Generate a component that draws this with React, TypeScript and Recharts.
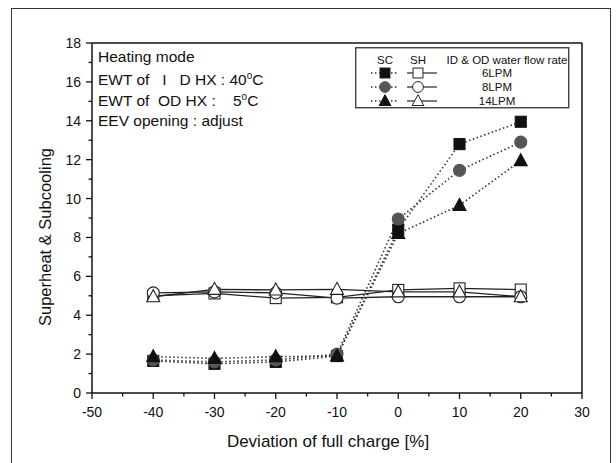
import React from 'react';
import { LineChart, Line, XAxis, YAxis, ReferenceLine, Customized, Legend } from 'recharts';

const deviation = [-40, -30, -20, -10, 0, 10, 20];
const sc6 = [1.65, 1.5, 1.6, 1.9, 8.4, 12.8, 13.95];
const sc8 = [1.7, 1.6, 1.7, 2.0, 8.95, 11.45, 12.9];
const sc14 = [1.87, 1.78, 1.87, 1.9, 8.2, 9.65, 11.95];
const sh6 = [5.0, 5.12, 4.88, 4.92, 5.3, 5.38, 5.32];
const sh8 = [5.15, 5.2, 5.15, 4.88, 4.95, 4.95, 4.95];
const sh14 = [4.95, 5.33, 5.3, 5.33, 5.2, 5.2, 4.95];
const xTicks = [-50, -45, -40, -35, -30, -25, -20, -15, -10, -5, 0, 5, 10, 15, 20, 25, 30];
const yTicks = [0, 1, 2, 3, 4, 5, 6, 7, 8, 9, 10, 11, 12, 13, 14, 15, 16, 17, 18];
const flowLabels = ['6LPM', '8LPM', '14LPM'];

const data = deviation.map((d, i) => ({
  d,
  sc6: sc6[i], sc8: sc8[i], sc14: sc14[i],
  sh6: sh6[i], sh8: sh8[i], sh14: sh14[i],
}));

const FONT = '"Liberation Sans", Arial, sans-serif';
const INK = '#111';
const NB = '\u00A0';

type Shape = 'square' | 'circle' | 'triangle';

const Marker = ({ cx, cy, shape, fill, stroke }: { cx: number; cy: number; shape: Shape; fill: string; stroke: string }) => {
  if (shape === 'square') {
    return <rect x={cx - 5.5} y={cy - 5.5} width={11} height={11} fill={fill} stroke={stroke} strokeWidth={1.1} />;
  }
  if (shape === 'circle') {
    return <circle cx={cx} cy={cy} r={6} fill={fill} stroke={stroke} strokeWidth={1.1} />;
  }
  return (
    <polygon
      points={`${cx},${cy - 7} ${cx + 6.5},${cy + 5} ${cx - 6.5},${cy + 5}`}
      fill={fill}
      stroke={stroke}
      strokeWidth={1.1}
    />
  );
};

const makeDot = (shape: Shape, fill: string, stroke: string) => (props: any) => {
  const { cx, cy, index } = props;
  if (cx == null || cy == null) return <g key={`e${index}`} />;
  return (
    <g key={`${shape}-${fill}-${index}`}>
      <Marker cx={cx} cy={cy} shape={shape} fill={fill} stroke={stroke} />
    </g>
  );
};

const XTick = (props: any) => {
  const { x, y, payload } = props;
  const major = payload.value % 10 === 0;
  return (
    <g>
      <line x1={x} y1={y} x2={x} y2={y + (major ? 6 : 3.5)} stroke={INK} strokeWidth={1.3} />
      {major && (
        <text x={x} y={y + 24} textAnchor="middle" fontSize={14} fontFamily={FONT} fill={INK}>
          {payload.value}
        </text>
      )}
    </g>
  );
};

const YTick = (props: any) => {
  const { x, y, payload } = props;
  const major = payload.value % 2 === 0;
  return (
    <g>
      <line x1={x} y1={y} x2={x - (major ? 6 : 3.5)} y2={y} stroke={INK} strokeWidth={1.3} />
      {major && (
        <text x={x - 11} y={y + 5} textAnchor="end" fontSize={14} fontFamily={FONT} fill={INK}>
          {payload.value}
        </text>
      )}
    </g>
  );
};

const Annotations = () => (
  <g fontFamily={FONT} fill={INK} fontSize={15.5}>
    <text x={98} y={62}>Heating mode</text>
    <text x={98} y={85}>
      {`EWT of${NB} ${NB}I${NB} ${NB}D HX : 40`}
      <tspan dy={-6} fontSize={10}>o</tspan>
      <tspan dy={6}>C</tspan>
    </text>
    <text x={98} y={106}>
      {`EWT of${NB} OD HX :${NB} ${NB} 5`}
      <tspan dy={-6} fontSize={10}>o</tspan>
      <tspan dy={6}>C</tspan>
    </text>
    <text x={98} y={126}>EEV opening : adjust</text>
    <text x={328} y={447} textAnchor="middle" fontSize={17}>Deviation of full charge [%]</text>
    <text x={45} y={237} textAnchor="middle" fontSize={16.5} transform="rotate(-90 45 237)" dy={6}>
      Superheat &amp; Subcooling
    </text>
  </g>
);

const legendRows: { shape: Shape; scFill: string }[] = [
  { shape: 'square', scFill: '#111' },
  { shape: 'circle', scFill: '#555' },
  { shape: 'triangle', scFill: '#111' },
];

const LegendBox = () => {
  const rowsY = [26, 40, 54];
  return (
    <svg width={215} height={62} style={{ display: 'block' }}>
      <rect x={0.75} y={0.75} width={213} height={60} fill="#fff" stroke="#333" strokeWidth={1.3} />
      <g fontFamily={FONT} fontSize={11.5} fill={INK}>
        <text x={30} y={17} textAnchor="middle">SC</text>
        <text x={63} y={17} textAnchor="middle">SH</text>
        <text x={152} y={17} textAnchor="middle">ID &amp; OD water flow rate</text>
        {legendRows.map((r, i) => (
          <g key={i}>
            <line x1={16} y1={rowsY[i]} x2={44} y2={rowsY[i]} stroke="#333" strokeWidth={1.5} strokeDasharray="1.5 2.5" />
            <g transform={`translate(30 ${rowsY[i]}) scale(0.9) translate(-30 ${-rowsY[i]})`}>
              <Marker cx={30} cy={rowsY[i]} shape={r.shape} fill={r.scFill} stroke={r.scFill} />
            </g>
            <line x1={52} y1={rowsY[i]} x2={82} y2={rowsY[i]} stroke="#222" strokeWidth={1.2} />
            <g transform={`translate(63 ${rowsY[i]}) scale(0.9) translate(-63 ${-rowsY[i]})`}>
              <Marker cx={63} cy={rowsY[i]} shape={r.shape} fill="#fff" stroke="#222" />
            </g>
            <text x={142} y={rowsY[i] + 4} textAnchor="middle">{flowLabels[i]}</text>
          </g>
        ))}
      </g>
    </svg>
  );
};

export default function App() {
  return (
    <div style={{ position: 'absolute', left: 0, top: 0, width: 616, height: 463, background: '#fff' }}>
      <div
        style={{
          position: 'absolute',
          left: 11,
          top: 8,
          width: 600,
          height: 460,
          border: '1.5px solid #333',
          boxSizing: 'border-box',
        }}
      />
      <div style={{ position: 'absolute', left: 0, top: 0 }}>
        <LineChart width={616} height={463} data={data} margin={{ top: 43, right: 34, bottom: 30, left: 32 }}>
          <XAxis
            dataKey="d"
            type="number"
            domain={[-50, 30]}
            ticks={xTicks}
            interval={0}
            tickSize={0}
            tickMargin={0}
            tick={<XTick />}
            height={40}
            axisLine={{ stroke: INK, strokeWidth: 1.5 }}
            allowDataOverflow
          />
          <YAxis
            type="number"
            domain={[0, 18]}
            ticks={yTicks}
            interval={0}
            tickSize={0}
            tickMargin={0}
            tick={<YTick />}
            width={60}
            axisLine={{ stroke: INK, strokeWidth: 1.5 }}
            allowDataOverflow
          />
          <ReferenceLine y={18} stroke={INK} strokeWidth={1.5} />
          <ReferenceLine x={30} stroke={INK} strokeWidth={1.5} />
          <Line dataKey="sh6" stroke="#222" strokeWidth={1.3} dot={makeDot('square', '#fff', '#222')} isAnimationActive={false} legendType="none" />
          <Line dataKey="sh8" stroke="#222" strokeWidth={1.3} dot={makeDot('circle', '#fff', '#222')} isAnimationActive={false} legendType="none" />
          <Line dataKey="sh14" stroke="#222" strokeWidth={1.3} dot={makeDot('triangle', '#fff', '#222')} isAnimationActive={false} legendType="none" />
          <Line dataKey="sc6" stroke="#333" strokeWidth={1.6} strokeDasharray="1.5 2.5" dot={makeDot('square', '#111', '#111')} isAnimationActive={false} legendType="none" />
          <Line dataKey="sc8" stroke="#333" strokeWidth={1.6} strokeDasharray="1.5 2.5" dot={makeDot('circle', '#555', '#555')} isAnimationActive={false} legendType="none" />
          <Line dataKey="sc14" stroke="#333" strokeWidth={1.6} strokeDasharray="1.5 2.5" dot={makeDot('triangle', '#111', '#111')} isAnimationActive={false} legendType="none" />
          <Customized component={Annotations} />
          <Legend
            layout="vertical"
            align="center"
            verticalAlign="middle"
            content={() => <LegendBox />}
            wrapperStyle={{ position: 'absolute', left: 355, top: 47, width: 215, height: 62 }}
          />
        </LineChart>
      </div>
    </div>
  );
}
